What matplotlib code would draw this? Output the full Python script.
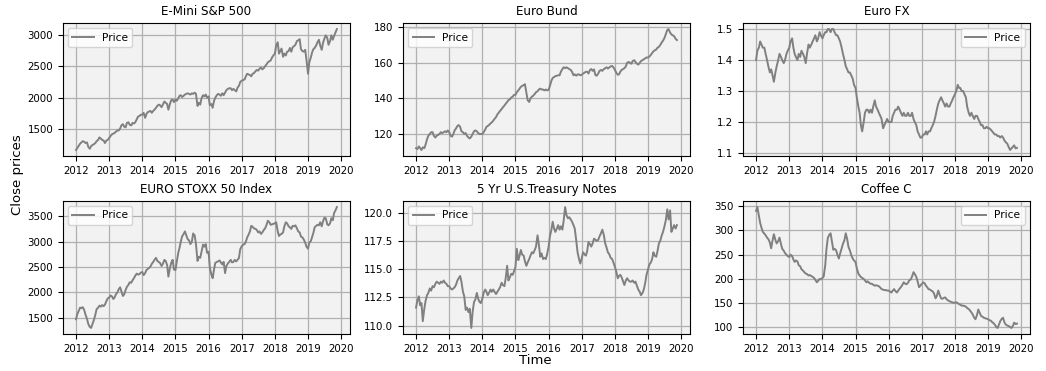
import pandas as pd
import matplotlib
matplotlib.use("Agg")
import matplotlib.pyplot as plt
from matplotlib.ticker import MultipleLocator

# semi-monthly close prices, 2012-01 .. 2019-11 (24 values per year row)
sp500 = [
    1170, 1200, 1240, 1270, 1290, 1310, 1300, 1280, 1290, 1220, 1190, 1230, 1250, 1260, 1280, 1310, 1330, 1370, 1350, 1330, 1320, 1280, 1320, 1330,
    1360, 1390, 1420, 1430, 1440, 1460, 1480, 1480, 1510, 1560, 1580, 1540, 1530, 1600, 1610, 1570, 1560, 1600, 1590, 1610, 1660, 1700, 1710, 1730,
    1730, 1760, 1680, 1740, 1770, 1780, 1790, 1760, 1790, 1810, 1840, 1870, 1890, 1880, 1850, 1890, 1940, 1920, 1900, 1810, 1900, 1960, 1970, 1930,
    1970, 1950, 1990, 2030, 2040, 2010, 2030, 2050, 2060, 2070, 2060, 2050, 2070, 2060, 2080, 2060, 1870, 1920, 1890, 1990, 2040, 2020, 2050, 2000,
    2020, 1880, 1900, 1840, 1950, 2000, 2040, 2060, 2050, 2030, 2070, 2040, 2080, 2120, 2140, 2150, 2150, 2120, 2140, 2120, 2100, 2160, 2190, 2250,
    2270, 2280, 2290, 2340, 2380, 2370, 2360, 2340, 2380, 2390, 2420, 2440, 2430, 2460, 2480, 2450, 2470, 2500, 2530, 2560, 2580, 2590, 2640, 2670,
    2700, 2830, 2880, 2700, 2740, 2780, 2650, 2700, 2670, 2730, 2740, 2790, 2730, 2800, 2820, 2840, 2900, 2910, 2930, 2770, 2740, 2730, 2760, 2600,
    2380, 2560, 2640, 2720, 2770, 2790, 2830, 2880, 2920, 2830, 2760, 2870, 2940, 2990, 2950, 2840, 2900, 2990, 2920, 2980, 3040, 3090,
]

bund = [
    112, 111.5, 113, 112, 111, 112.5, 112, 114, 117, 119, 120, 121, 121, 119, 118, 119, 119.5, 120, 121, 120.5, 121, 121.5, 121, 122,
    121, 119, 118.5, 120, 122, 123, 124.5, 125, 124, 121.5, 121, 120, 120.5, 119, 118, 117.5, 118.5, 120, 121.5, 122, 121.5, 120.5, 120, 120,
    120, 121, 122.5, 124, 124.5, 125, 126, 126.5, 127.5, 128.5, 129.5, 131, 132, 133, 134, 135, 136, 137, 138, 139, 139.5, 140.5, 141, 142,
    142, 143.5, 144.5, 145.5, 146.5, 147, 147.5, 148, 143, 139, 138, 140, 141, 141.5, 142.5, 143.5, 144, 145, 145.5, 145, 145, 144.5, 145, 144.5,
    144.8, 147, 150, 151.5, 152, 152.5, 152.8, 153, 153, 155, 156.5, 157.5, 157, 157.5, 157, 156.5, 156, 155, 153, 153.5, 152.8, 153.5, 153.5, 153,
    153.3, 154, 154.5, 155, 155, 154, 156, 156.5, 155.5, 156.3, 153, 152.8, 154, 155.5, 156, 155.5, 156.5, 157, 157.5, 156.8, 157.5, 158, 158.2, 157.5,
    156, 154.5, 153.3, 153.5, 155, 156, 156.5, 157, 158, 160, 160.5, 160, 159.5, 161, 161.5, 160.5, 159.5, 159, 160, 161, 161.5, 162, 162.5, 163,
    163, 163.5, 164.5, 165.5, 166.5, 167, 167.5, 168.5, 169, 170, 171.5, 172.5, 174, 176, 178.5, 179, 177, 176, 175.5, 175, 173.5, 172.8,
]

eurofx = [
    1.40, 1.43, 1.44, 1.46, 1.45, 1.44, 1.44, 1.42, 1.40, 1.38, 1.36, 1.37, 1.35, 1.33, 1.36, 1.38, 1.40, 1.42, 1.41, 1.40, 1.39, 1.40, 1.42, 1.43,
    1.44, 1.46, 1.47, 1.44, 1.42, 1.41, 1.40, 1.42, 1.41, 1.43, 1.42, 1.41, 1.39, 1.42, 1.45, 1.44, 1.45, 1.46, 1.47, 1.48, 1.46, 1.47, 1.49, 1.48,
    1.47, 1.48, 1.49, 1.49, 1.50, 1.50, 1.49, 1.50, 1.50, 1.49, 1.48, 1.48, 1.47, 1.46, 1.44, 1.42, 1.40, 1.38, 1.37, 1.36, 1.36, 1.35, 1.34, 1.32,
    1.31, 1.28, 1.25, 1.23, 1.19, 1.17, 1.20, 1.23, 1.24, 1.24, 1.23, 1.24, 1.23, 1.25, 1.27, 1.25, 1.24, 1.23, 1.22, 1.21, 1.18, 1.19, 1.20, 1.21,
    1.20, 1.20, 1.20, 1.22, 1.23, 1.24, 1.24, 1.25, 1.24, 1.23, 1.22, 1.23, 1.22, 1.22, 1.23, 1.22, 1.22, 1.23, 1.21, 1.20, 1.19, 1.17, 1.16, 1.15,
    1.15, 1.16, 1.16, 1.17, 1.16, 1.17, 1.17, 1.18, 1.19, 1.20, 1.22, 1.24, 1.26, 1.27, 1.28, 1.27, 1.26, 1.25, 1.26, 1.25, 1.25, 1.26, 1.27, 1.28,
    1.29, 1.30, 1.32, 1.31, 1.31, 1.30, 1.30, 1.29, 1.28, 1.25, 1.23, 1.22, 1.23, 1.22, 1.21, 1.22, 1.22, 1.21, 1.20, 1.19, 1.19, 1.18, 1.18, 1.185,
    1.18, 1.18, 1.175, 1.17, 1.165, 1.16, 1.16, 1.155, 1.155, 1.15, 1.155, 1.15, 1.14, 1.135, 1.13, 1.12, 1.11, 1.115, 1.12, 1.125, 1.115, 1.117,
]

stoxx50 = [
    1470, 1570, 1640, 1700, 1690, 1710, 1650, 1560, 1480, 1380, 1320, 1300, 1380, 1450, 1560, 1670, 1700, 1740, 1720, 1750, 1730, 1760, 1830, 1880,
    1900, 1940, 1920, 1870, 1900, 1960, 2000, 2060, 2100, 2020, 1930, 1960, 2050, 2110, 2150, 2200, 2190, 2240, 2280, 2330, 2370, 2350, 2360, 2390,
    2400, 2340, 2380, 2440, 2460, 2480, 2510, 2560, 2600, 2640, 2680, 2620, 2600, 2580, 2520, 2560, 2640, 2620, 2540, 2310, 2480, 2580, 2640, 2450,
    2440, 2600, 2780, 2880, 3000, 3100, 3150, 3200, 3120, 3050, 3020, 2950, 3000, 3160, 3120, 2950, 2620, 2700, 2680, 2800, 2940, 2900, 2950, 2780,
    2800, 2480, 2350, 2280, 2450, 2580, 2600, 2610, 2630, 2590, 2550, 2600, 2380, 2520, 2570, 2600, 2640, 2590, 2600, 2640, 2610, 2640, 2680, 2850,
    2910, 2940, 2950, 3000, 3080, 3130, 3200, 3310, 3290, 3260, 3250, 3230, 3180, 3200, 3150, 3180, 3230, 3260, 3330, 3410, 3380, 3330, 3340, 3350,
    3360, 3380, 3200, 3110, 3140, 3150, 3180, 3300, 3380, 3360, 3300, 3280, 3250, 3310, 3300, 3320, 3260, 3200, 3180, 3100, 3080, 3040, 2980, 2900,
    2860, 2980, 3010, 3090, 3170, 3280, 3310, 3330, 3320, 3380, 3300, 3400, 3470, 3460, 3340, 3320, 3360, 3460, 3420, 3560, 3620, 3680,
]

tnotes5 = [
    111.6, 112.2, 112.6, 111.8, 112.0, 110.4, 111.5, 112.2, 112.7, 112.9, 113.3, 113.1, 113.5, 113.4, 113.7, 113.9, 113.8, 113.7, 113.9, 113.8, 114.0, 113.8, 113.7, 113.5,
    113.5, 113.3, 113.2, 113.3, 113.4, 113.6, 114.0, 114.2, 114.4, 113.9, 113.0, 112.6, 111.4, 111.6, 111.2, 111.5, 109.8, 111.2, 112.1, 112.3, 112.9, 112.4, 112.1, 112.0,
    112.4, 112.9, 113.2, 113.0, 112.7, 112.9, 113.2, 113.0, 113.2, 113.0, 112.8, 113.0, 113.2, 113.4, 113.8, 113.6, 113.5, 114.2, 115.3, 114.0, 114.3, 114.6, 114.5, 114.8,
    115.2, 116.8, 115.8, 116.2, 116.7, 116.3, 116.2, 115.7, 115.3, 115.6, 115.9, 116.2, 116.5, 116.4, 116.7, 117.0, 118.0, 117.2, 116.1, 116.4, 115.9, 116.0, 115.9, 116.3,
    117.0, 117.9, 118.5, 119.2, 118.6, 118.3, 118.6, 118.9, 118.5, 118.8, 118.5, 119.3, 120.5, 119.8, 119.5, 119.6, 119.4, 119.2, 118.9, 118.6, 117.5, 116.5, 115.9, 115.5,
    116.0, 116.5, 116.3, 116.2, 116.6, 117.4, 117.2, 117.0, 117.3, 117.7, 117.6, 117.5, 117.6, 117.9, 118.2, 118.5, 118.0, 117.3, 116.9, 116.5, 116.3, 116.0, 115.9, 115.6,
    115.2, 114.8, 114.2, 114.4, 114.5, 114.3, 113.9, 113.6, 114.0, 114.2, 114.0, 113.9, 113.9, 114.0, 113.8, 113.9, 113.5, 113.2, 113.0, 112.7, 112.9, 113.2, 113.8, 114.5,
    115.0, 115.4, 115.6, 115.9, 116.5, 116.2, 116.1, 116.6, 117.3, 117.5, 118.0, 118.3, 118.8, 119.3, 120.3, 119.4, 120.2, 118.3, 118.6, 118.9, 118.6, 118.9,
]

coffee = [
    340, 348, 330, 315, 305, 297, 293, 290, 285, 282, 275, 263, 280, 292, 280, 273, 278, 285, 272, 262, 258, 253, 250, 247,
    245, 250, 247, 240, 235, 238, 236, 228, 226, 220, 217, 214, 211, 210, 207, 208, 206, 204, 202, 198, 193, 196, 200, 199,
    202, 205, 228, 262, 284, 290, 294, 278, 260, 262, 259, 250, 242, 252, 263, 272, 280, 294, 282, 266, 258, 249, 242, 238,
    235, 222, 211, 207, 204, 202, 200, 197, 193, 195, 192, 190, 190, 188, 186, 187, 186, 185, 182, 179, 178, 177, 177, 176,
    176, 174, 172, 176, 179, 175, 172, 176, 180, 183, 188, 193, 190, 189, 192, 197, 199, 205, 214, 210, 204, 195, 183, 186,
    190, 193, 191, 186, 183, 179, 178, 176, 174, 170, 160, 165, 176, 168, 160, 159, 161, 162, 158, 156, 154, 153, 152, 151,
    151, 152, 150, 148, 147, 145, 145, 144, 143, 140, 138, 135, 131, 127, 120, 117, 126, 137, 130, 124, 122, 120, 119, 118,
    117, 115, 114, 111, 109, 106, 101, 99, 106, 113, 118, 120, 110, 106, 104, 103, 101, 99, 103, 110, 107, 108,
]

titles = ["E-Mini S&P 500", "Euro Bund", "Euro FX",
          "EURO STOXX 50 Index", "5 Yr U.S.Treasury Notes", "Coffee C"]
series = [sp500, bund, eurofx, stoxx50, tnotes5, coffee]
legend_locs = ["upper left", "upper left", "upper right",
               "upper left", "upper left", "upper right"]

dates = pd.date_range("2012-01-01", "2019-11-15", freq="SMS")


def plot_panel(ax, values, title, loc):
    s = pd.Series(values, index=dates)
    ax.plot(s.index, s.values, color="grey", linewidth=1.4, label="Price")
    ax.set_facecolor("#f2f2f2")
    ax.grid(True, color="#b0b0b0", linewidth=0.9)
    ax.set_axisbelow(True)
    ax.set_title(title, fontsize=8.6)
    ax.tick_params(labelsize=7.4)
    ax.legend(loc=loc, fontsize=7.6)


fig, axes = plt.subplots(2, 3, figsize=(10.46, 3.71), dpi=100)
fig.subplots_adjust(left=0.0602, right=0.9847, top=0.938, bottom=0.0997,
                    wspace=0.185, hspace=0.338)

for ax, vals, title, loc in zip(axes.flat, series, titles, legend_locs):
    plot_panel(ax, vals, title, loc)

# treasury notes panel uses quarter-point steps
axes[1, 1].yaxis.set_major_locator(MultipleLocator(2.5))

fig.text(0.017, 0.53, "Close prices", rotation=90, fontsize=9.5,
         ha="center", va="center")
fig.text(0.512, 0.027, "Time", fontsize=9.5, ha="center", va="center")

fig.savefig("out.png", dpi=100)
